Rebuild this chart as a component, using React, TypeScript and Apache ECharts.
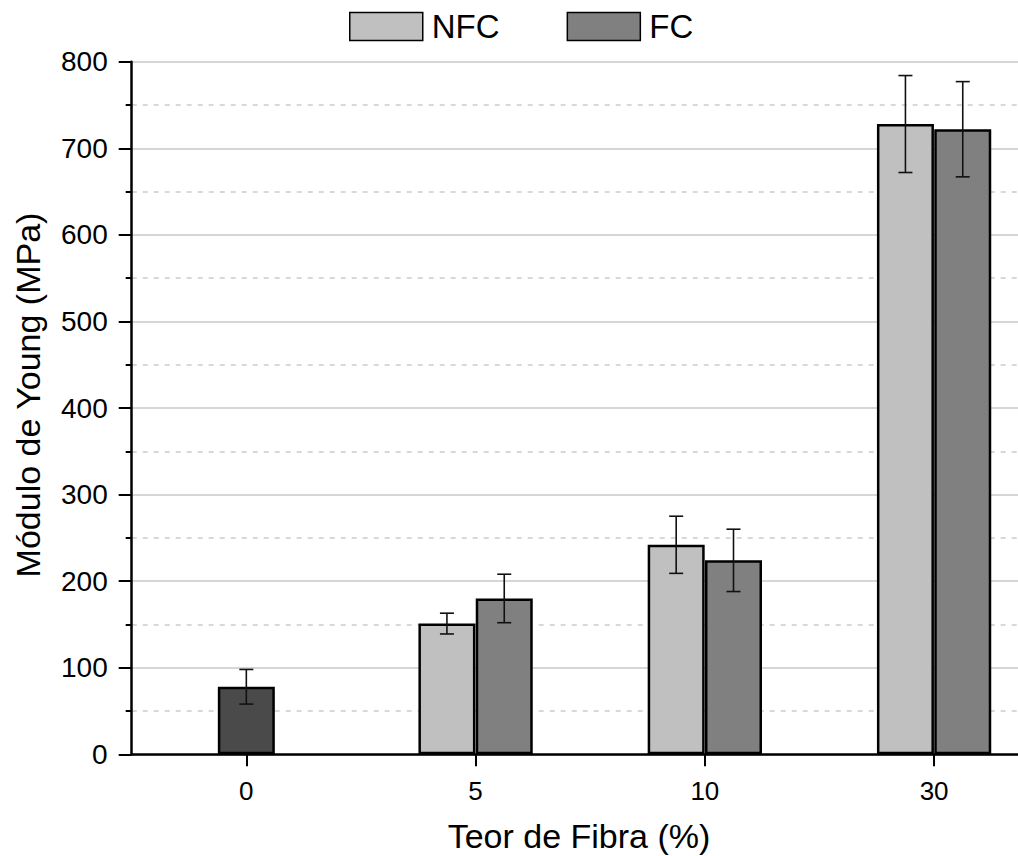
import React, { useEffect, useRef } from "react";
import * as echarts from "echarts";

const categories = ["0", "5", "10", "30"];
const baseMean = [78, null, null, null];
const baseSd = [20, null, null, null];
const nfcMean = [null, 151, 242, 728];
const nfcSd = [null, 12, 33, 56];
const fcMean = [null, 180, 224, 722];
const fcSd = [null, 28, 36, 55];
const yTicks = [0, 100, 200, 300, 400, 500, 600, 700, 800];

const FONT = "'Liberation Sans', Arial, Helvetica, sans-serif";
const BAR_W = 57;
const OFFSET = 0.125; // half bar in category units

function barData(means: (number | null)[], off: number) {
  const out: any[] = [];
  means.forEach((m, i) => {
    if (m != null) out.push([i + off, m]);
  });
  return out;
}

function errData() {
  const out: any[] = [];
  const add = (means: (number | null)[], sds: (number | null)[], off: number) => {
    means.forEach((m, i) => {
      const s = sds[i];
      if (m != null && s != null) out.push([i + off, m - s, m + s]);
    });
  };
  add(baseMean, baseSd, 0);
  add(nfcMean, nfcSd, -OFFSET);
  add(fcMean, fcSd, OFFSET);
  return out;
}

export default function App() {
  const ref = useRef<HTMLDivElement>(null);
  useEffect(() => {
    if (!ref.current) return;
    const chart = echarts.init(ref.current, undefined, { renderer: "svg" });
    const tickVals = categories.map((_, i) => i);
    chart.setOption({
      animation: false,
      backgroundColor: "#ffffff",
      textStyle: { fontFamily: FONT },
      grid: { left: 131.7, top: 61.7, bottom: 101.7, right: 0, containLabel: false },
      legend: {
        data: ["NFC", "FC"],
        left: 349,
        top: 10,
        padding: 0,
        itemWidth: 73,
        itemHeight: 28,
        itemGap: 67,
        icon: "rect",
        textStyle: { fontSize: 33, color: "#000", fontFamily: FONT, padding: [0, 0, 0, 4] },
        itemStyle: { borderColor: "#000", borderWidth: 1.5 },
      },
      xAxis: {
        type: "value",
        min: -0.5,
        max: 3.366,
        axisLine: { show: true, onZero: false, lineStyle: { color: "#000", width: 2.5 } },
        axisTick: { show: true, length: 12, lineStyle: { color: "#000", width: 2 }, customValues: tickVals },
        axisLabel: {
          customValues: tickVals,
          formatter: (v: number) => categories[Math.round(v)] ?? "",
          fontSize: 26,
          color: "#000",
          fontFamily: FONT,
          margin: 24,
        },
        splitLine: { show: false },
      },
      yAxis: {
        type: "value",
        min: 0,
        max: 800,
        interval: 100,
        axisLine: { show: true, onZero: false, lineStyle: { color: "#000", width: 2.5 } },
        axisTick: { show: true, length: 13, lineStyle: { color: "#000", width: 2 } },
        minorTick: { show: true, splitNumber: 2, length: 6, lineStyle: { color: "#000", width: 2 } },
        axisLabel: {
          fontSize: 28,
          color: "#000",
          fontFamily: FONT,
          margin: 24,
          formatter: (v: number) => (yTicks.includes(v) ? String(v) : ""),
        },
        splitLine: { show: true, lineStyle: { color: "#c8c8c8", width: 1.5 } },
        minorSplitLine: { show: true, lineStyle: { color: "#cccccc", width: 1.5, type: [5, 6] } },
      },
      graphic: [
        {
          type: "text",
          x: 579,
          y: 836,
          style: {
            text: "Teor de Fibra (%)",
            fontSize: 34,
            fontFamily: FONT,
            fill: "#000",
            textAlign: "center",
            textVerticalAlign: "middle",
          },
        },
        {
          type: "text",
          x: 28,
          y: 395,
          rotation: Math.PI / 2,
          style: {
            text: "Módulo de Young (MPa)",
            fontSize: 34,
            fontFamily: FONT,
            fill: "#000",
            textAlign: "center",
            textVerticalAlign: "middle",
          },
        },
      ],
      series: [
        {
          name: "Base",
          type: "bar",
          barWidth: BAR_W,
          barGap: "-100%",
          data: barData(baseMean, 0),
          itemStyle: { color: "#4a4a4a", borderColor: "#000", borderWidth: 2.5 },
          z: 2,
        },
        {
          name: "NFC",
          type: "bar",
          barWidth: BAR_W,
          barGap: "-100%",
          data: barData(nfcMean, -OFFSET),
          itemStyle: { color: "#c0c0c0", borderColor: "#000", borderWidth: 2.5 },
          z: 2,
        },
        {
          name: "FC",
          type: "bar",
          barWidth: BAR_W,
          barGap: "-100%",
          data: barData(fcMean, OFFSET),
          itemStyle: { color: "#808080", borderColor: "#000", borderWidth: 2.5 },
          z: 2,
        },
        {
          name: "err",
          type: "custom",
          z: 5,
          data: errData(),
          encode: { x: 0, y: [1, 2] },
          renderItem: (params: any, api: any) => {
            const x = api.value(0);
            const lo = api.coord([x, api.value(1)]);
            const hi = api.coord([x, api.value(2)]);
            const cap = 7;
            const style = { stroke: "#111", lineWidth: 1.6 };
            return {
              type: "group",
              children: [
                { type: "line", shape: { x1: lo[0], y1: lo[1], x2: hi[0], y2: hi[1] }, style },
                { type: "line", shape: { x1: hi[0] - cap, y1: hi[1], x2: hi[0] + cap, y2: hi[1] }, style },
                { type: "line", shape: { x1: lo[0] - cap, y1: lo[1], x2: lo[0] + cap, y2: lo[1] }, style },
              ],
            };
          },
        },
      ],
    });
    return () => chart.dispose();
  }, []);
  return (
    <div
      ref={ref}
      style={{ position: "absolute", left: 0, top: 0, width: 1018, height: 856 }}
    />
  );
}
